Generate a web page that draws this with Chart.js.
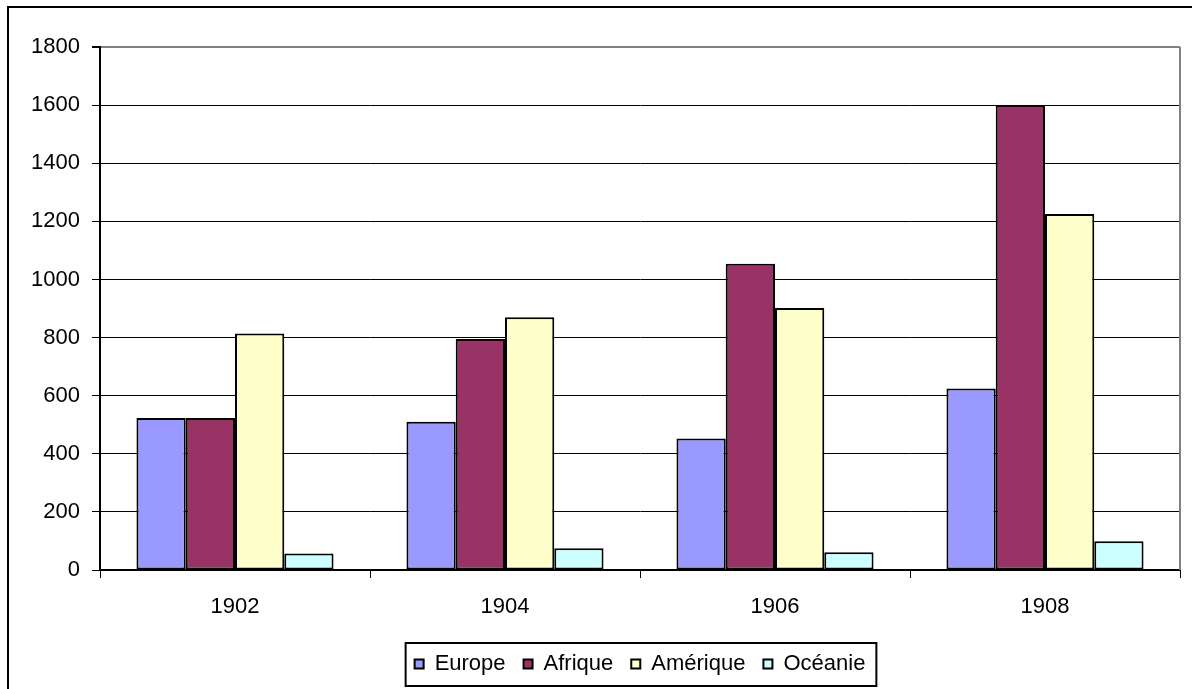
<!DOCTYPE html>
<html>
<head>
<meta charset="utf-8">
<script src="https://cdn.jsdelivr.net/npm/chart.js@4/dist/chart.umd.min.js"></script>
<style>
  html, body { margin: 0; padding: 0; background: #fff; }
  #wrap { width: 1192px; height: 689px; }
</style>
</head>
<body>
<div id="wrap"><canvas id="barChart" width="1192" height="689"></canvas></div>
<script>
var years = ['1902', '1904', '1906', '1908'];
var europe = [523, 510, 453, 625];
var afrique = [523, 795, 1054, 1600];
var amerique = [814, 870, 902, 1225];
var oceanie = [57, 75, 61, 99];

var FONT = '"Liberation Sans", Arial, sans-serif';

// white background, outer frame, plot border and legend box
var framePlugin = {
    id: 'frame',
    beforeDraw: function (chart) {
        var ctx = chart.ctx;
        ctx.save();
        ctx.fillStyle = '#fff';
        ctx.fillRect(0, 0, chart.width, chart.height);
        ctx.restore();
    },
    afterDraw: function (chart) {
        var ctx = chart.ctx;
        var area = chart.chartArea;
        ctx.save();
        // outer chart frame (only top and left visible)
        ctx.strokeStyle = '#000';
        ctx.lineWidth = 2;
        ctx.beginPath();
        ctx.moveTo(8, chart.height + 2);
        ctx.lineTo(8, 7);
        ctx.lineTo(chart.width + 2, 7);
        ctx.stroke();

        // plot area right edge
        ctx.strokeStyle = '#808080';
        ctx.lineWidth = 2;
        ctx.beginPath();
        ctx.moveTo(area.right, area.top);
        ctx.lineTo(area.right, area.bottom);
        ctx.stroke();

        // legend box
        var boxes = chart.legend.legendHitBoxes;
        if (boxes && boxes.length) {
            var l = boxes[0].left, r = 0, t = boxes[0].top, b = 0;
            boxes.forEach(function (hb) {
                l = Math.min(l, hb.left);
                r = Math.max(r, hb.left + hb.width);
                t = Math.min(t, hb.top);
                b = Math.max(b, hb.top + hb.height);
            });
            var cy = (t + b) / 2;
            ctx.strokeStyle = '#000';
            ctx.lineWidth = 2;
            ctx.strokeRect(l - 9, cy - 21, (r - l) + 20, 43);
        }
        ctx.restore();
    }
};

function ds(label, data, color) {
    return {
        label: label,
        data: data,
        backgroundColor: color,
        borderColor: '#000',
        borderWidth: 2,
        borderSkipped: false,
        categoryPercentage: 0.73,
        barPercentage: 1.0
    };
}

var barCtx = document.getElementById('barChart').getContext('2d');
var barChart = new Chart(barCtx, {
    type: 'bar',
    data: {
        labels: years,
        datasets: [
            ds('Europe', europe, '#9999FF'),
            ds('Afrique', afrique, '#993366'),
            ds('Amérique', amerique, '#FFFFCC'),
            ds('Océanie', oceanie, '#CCFFFF')
        ]
    },
    options: {
        responsive: false,
        animation: false,
        layout: { padding: { top: 47, right: 12, left: 0, bottom: 4 } },
        plugins: {
            tooltip: { enabled: false },
            legend: {
                position: 'bottom',
                fullSize: false,
                labels: {
                    color: '#000',
                    font: { family: FONT, size: 22 },
                    boxWidth: 9,
                    boxHeight: 9,
                    padding: 18,
                    useBorderRadius: false
                }
            }
        },
        scales: {
            x: {
                offset: true,
                grid: {
                    display: true,
                    offset: true,
                    drawOnChartArea: false,
                    drawTicks: true,
                    tickLength: 8,
                    color: '#000',
                    lineWidth: 1
                },
                border: { display: true, color: '#000', width: 2 },
                ticks: {
                    color: '#000',
                    font: { family: FONT, size: 22 },
                    padding: 16,
                    maxRotation: 0
                },
                afterFit: function (scale) { scale.height = 65; }
            },
            y: {
                min: 0,
                max: 1800,
                ticks: {
                    stepSize: 200,
                    color: '#000',
                    font: { family: FONT, size: 22 },
                    padding: 12,
                    callback: function (v) { return String(v); }
                },
                grid: {
                    color: function (c) { return c.tick && c.tick.value === 1800 ? '#808080' : '#000'; },
                    lineWidth: function (c) { return c.tick && c.tick.value === 1800 ? 2 : 1; },
                    tickLength: 8,
                    tickColor: '#000'
                },
                border: { display: true, color: '#000', width: 2 },
                afterFit: function (scale) { scale.width = 100; }
            }
        }
    },
    plugins: [framePlugin]
});
</script>
</body>
</html>
